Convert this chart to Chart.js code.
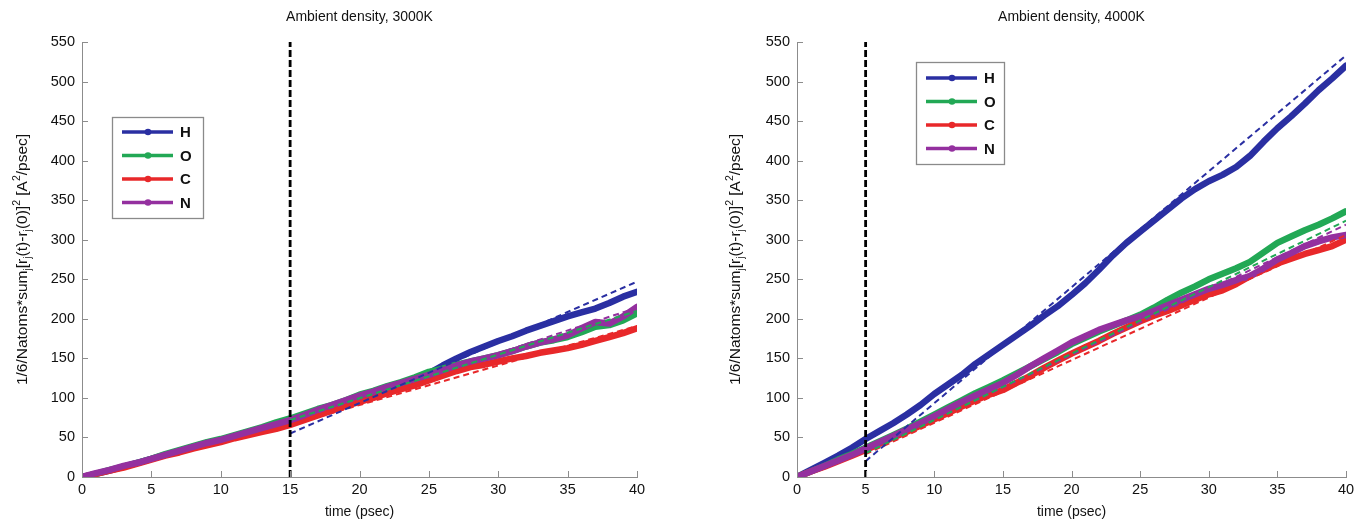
<!DOCTYPE html>
<html><head><meta charset="utf-8">
<script src="https://cdn.jsdelivr.net/npm/chart.js@4.4.0/dist/chart.umd.min.js"></script>
<style>
html,body{margin:0;padding:0;background:#fff;}
#wrap{position:relative;width:1361px;height:521px;overflow:hidden;}
canvas{position:absolute;top:0;}
</style></head><body>
<div id="wrap">
<canvas id="c1" width="690" height="521" style="left:0px"></canvas>
<canvas id="c2" width="671" height="521" style="left:690px"></canvas>
</div>
<script>
// ---------- data ----------
const time = [0,1,2,3,4,5,6,7,8,9,10,11,12,13,14,15,16,17,18,19,20,21,22,23,24,25,26,27,28,29,30,31,32,33,34,35,36,37,38,39,40];
const xTicks = [0,5,10,15,20,25,30,35,40];
const yTicks = [0,50,100,150,200,250,300,350,400,450,500,550];
const species = ['H','O','C','N'];

// Ambient density, 3000K
const H3000 = [0,4,8,13,18,23,28,33,38,43,47,52,57,62,66,70,76,82,88,96,103,108,114,119,124,131,141,150,158,165,172,178,185,191,197,203,208,213,220,228,234];
const O3000 = [0,4,9,13,18,23,29,34,39,44,48,53,58,63,69,74,80,86,91,97,104,109,115,120,126,133,137,142,146,150,154,159,165,170,173,177,183,190,192,198,207];
const C3000 = [0,4,8,12,17,22,27,31,36,40,44,49,53,57,61,66,72,78,84,90,95,100,106,111,116,122,128,134,139,142,146,150,153,157,160,163,167,172,177,182,188];
const N3000 = [0,5,9,14,18,23,28,33,38,43,47,52,57,62,67,72,78,85,91,97,103,108,114,119,124,129,135,141,146,150,154,159,165,170,174,179,188,196,194,203,215];
const fitT3000 = [15,40];
const fitH3000 = [55,247];
const fitO3000 = [72,210];
const fitC3000 = [66,191];
const fitN3000 = [70,214];
const marker3000 = 15;

// Ambient density, 4000K
const H4000 = [0,9,18,27,37,48,58,68,79,91,105,117,129,143,155,167,179,191,204,216,230,245,262,280,296,310,324,338,352,364,374,382,392,406,424,441,456,472,489,504,520];
const O4000 = [0,7,14,22,29,37,45,53,61,70,79,88,97,106,114,122,131,140,149,158,168,176,184,191,198,205,214,224,233,241,250,257,264,272,284,296,304,312,319,327,336];
const C4000 = [0,7,13,20,27,34,42,50,57,65,73,81,89,97,104,110,119,128,138,147,156,164,172,181,189,197,204,210,217,224,231,236,244,254,262,270,276,282,287,292,300];
const N4000 = [0,7,14,21,28,36,44,52,60,68,77,86,95,103,111,119,129,140,150,160,170,178,186,192,198,203,210,217,224,231,238,243,249,254,264,275,283,292,298,303,306];
const fitT4000 = [5,40];
const fitH4000 = [20,533];
const fitO4000 = [30,324];
const fitC4000 = [29,306];
const fitN4000 = [31,319];
const marker4000 = 5;

// ---------- styles ----------
const COLORS = {H:'#2a2fa2', O:'#22a855', C:'#e8282a', N:'#94309f'};
const FONT = '"Liberation Sans", Arial, Helvetica, sans-serif';

function pts(xs, ys){ return xs.map((x,i)=>({x:x, y:ys[i]})); }

function buildDatasets(series, fits, fitT, marker){
  const ds = [];
  ds.push({label:'marker', data:[{x:marker,y:0},{x:marker,y:550}], borderColor:'#000', borderWidth:2.8, borderDash:[7,3], pointRadius:0, order:0});
  species.forEach((s,i)=>{
    ds.push({label:s+' fit', data:pts(fitT, fits[s]), borderColor:COLORS[s], borderWidth:2, borderDash:[6,4], pointRadius:0, order:1+i});
  });
  const ord = {H:8,O:7,C:6,N:5};
  species.forEach(s=>{
    ds.push({label:s, inLegend:true, data:pts(time, series[s]), borderColor:COLORS[s], backgroundColor:COLORS[s], borderWidth:6.5, pointRadius:0, tension:0, order:ord[s], borderCapStyle:'round', borderJoinStyle:'round'});
  });
  return ds;
}

const titlePlugin = {
  id:'ptitle',
  afterDraw(chart, args, o){
    const ctx = chart.ctx, ca = chart.chartArea;
    ctx.save();
    ctx.font = '14px ' + FONT; ctx.fillStyle = '#111';
    ctx.textAlign = 'center'; ctx.textBaseline = 'middle';
    ctx.fillText(o.text, (ca.left+ca.right)/2, o.y);
    ctx.restore();
  }
};

const yTitlePlugin = {
  id:'ytitle',
  afterDraw(chart, args, o){
    const ctx = chart.ctx, ca = chart.chartArea;
    const segs = [['1/6/Natoms*sum',0],['j',-1],['[r',0],['j',-1],['(t)-r',0],['j',-1],['(0)]',0],['2',1],[' [A',0],['2',1],['/psec]',0]];
    const big = '15.5px ' + FONT, small = '10.5px ' + FONT;
    ctx.save();
    let total = 0;
    segs.forEach(s=>{ ctx.font = s[1]===0?big:small; total += ctx.measureText(s[0]).width; });
    ctx.translate(o.x, (ca.top+ca.bottom)/2);
    ctx.rotate(-Math.PI/2);
    ctx.fillStyle = '#111'; ctx.textBaseline = 'alphabetic'; ctx.textAlign='left';
    let x = -total/2;
    segs.forEach(s=>{
      ctx.font = s[1]===0?big:small;
      const dy = s[1]===0?0:(s[1]<0?4:-7);
      ctx.fillText(s[0], x, 5+dy);
      x += ctx.measureText(s[0]).width;
    });
    ctx.restore();
  }
};

const tickPlugin = {
  id:'inticks',
  afterDatasetsDraw(chart){
    const ctx = chart.ctx, ca = chart.chartArea, xs = chart.scales.x, ys = chart.scales.y;
    ctx.save();
    ctx.strokeStyle = '#8c8c8c'; ctx.lineWidth = 1;
    ctx.beginPath();
    xTicks.forEach(v=>{ const px = Math.round(xs.getPixelForValue(v))+0.5; ctx.moveTo(px, ca.bottom); ctx.lineTo(px, ca.bottom-6); });
    yTicks.forEach(v=>{ const py = Math.round(ys.getPixelForValue(v))+0.5; ctx.moveTo(ca.left, py); ctx.lineTo(ca.left+6, py); });
    ctx.stroke();
    ctx.restore();
  }
};

const legendPlugin = {
  id:'boxlegend',
  afterDraw(chart, args, o){
    const ctx = chart.ctx;
    const items = chart.data.datasets.filter(d=>d.inLegend);
    ctx.save();
    ctx.fillStyle = '#fff'; ctx.fillRect(o.x, o.y, o.w, o.h);
    ctx.strokeStyle = '#8a8a8a'; ctx.lineWidth = 1.3;
    ctx.strokeRect(o.x+0.5, o.y+0.5, o.w, o.h);
    items.forEach((d,i)=>{
      const yy = o.y + o.first + i*o.gap;
      ctx.strokeStyle = d.borderColor; ctx.lineWidth = 3.4; ctx.lineCap='butt';
      ctx.beginPath(); ctx.moveTo(o.x+10, yy); ctx.lineTo(o.x+61, yy); ctx.stroke();
      ctx.fillStyle = d.borderColor;
      ctx.beginPath(); ctx.arc(o.x+36, yy, 3.3, 0, Math.PI*2); ctx.fill();
      ctx.fillStyle = '#111'; ctx.font = 'bold 15px ' + FONT;
      ctx.textAlign='left'; ctx.textBaseline='middle';
      ctx.fillText(d.label, o.x+68, yy+1);
    });
    ctx.restore();
  }
};

function makeChart(id, series, fits, fitT, marker, title, geom){
  const ctx = document.getElementById(id).getContext('2d');
  return new Chart(ctx, {
    type:'line',
    data:{ datasets: buildDatasets(series, fits, fitT, marker) },
    options:{
      responsive:false, animation:false, devicePixelRatio:1,
      layout:{ padding:{ left:0, right:geom.right, top:42, bottom:0 } },
      plugins:{
        legend:{display:false}, tooltip:{enabled:false},
        ptitle:{text:title, y:17},
        ytitle:{x:geom.ytx},
        boxlegend:geom.legend
      },
      scales:{
        x:{ type:'linear', min:0, max:40,
            afterBuildTicks(s){ s.ticks = xTicks.map(v=>({value:v})); },
            afterFit(s){ s.height = 44; },
            grid:{ display:true, drawOnChartArea:false, drawTicks:false, color:'#8c8c8c' },
            border:{ display:true, color:'#8c8c8c', width:1 },
            ticks:{ color:'#111', padding:4, maxRotation:0, font:{family:FONT, size:14.5} },
            title:{ display:true, text:'time (psec)', color:'#111', padding:{top:-2,bottom:0}, font:{family:FONT, size:14} }
        },
        y:{ type:'linear', min:0, max:550,
            afterBuildTicks(s){ s.ticks = yTicks.map(v=>({value:v})); },
            afterFit(s){ s.width = geom.left; },
            grid:{ display:true, drawOnChartArea:false, drawTicks:false, color:'#8c8c8c' },
            border:{ display:true, color:'#8c8c8c', width:1 },
            ticks:{ color:'#111', padding:7, font:{family:FONT, size:14.5} }
        }
      }
    },
    plugins:[titlePlugin, yTitlePlugin, tickPlugin, legendPlugin]
  });
}

makeChart('c1', {H:H3000,O:O3000,C:C3000,N:N3000}, {H:fitH3000,O:fitO3000,C:fitC3000,N:fitN3000}, fitT3000, marker3000,
  'Ambient density, 3000K',
  {left:82, right:53, ytx:22, legend:{x:112, y:117, w:91, h:101, first:15, gap:23.5}});
makeChart('c2', {H:H4000,O:O4000,C:C4000,N:N4000}, {H:fitH4000,O:fitO4000,C:fitC4000,N:fitN4000}, fitT4000, marker4000,
  'Ambient density, 4000K',
  {left:107, right:15, ytx:45, legend:{x:226, y:62, w:88, h:102, first:16, gap:23.5}});
</script>
</body></html>
